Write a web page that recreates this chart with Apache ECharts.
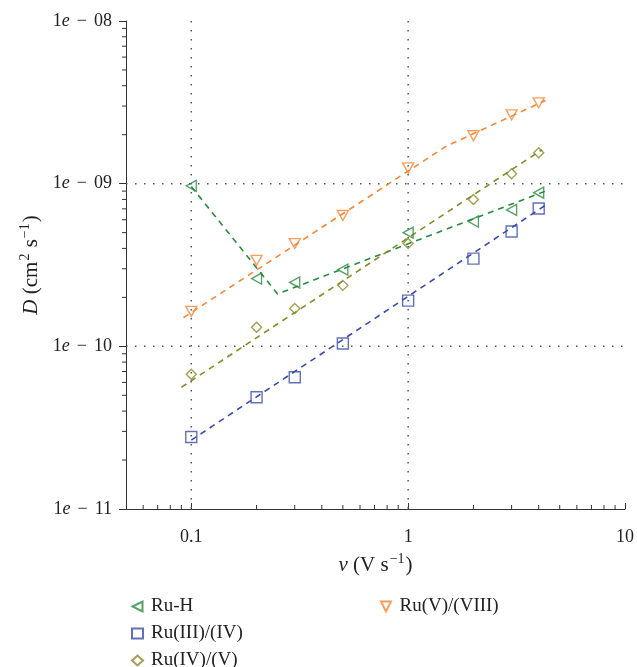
<!DOCTYPE html>
<html>
<head>
<meta charset="utf-8">
<script src="https://cdn.jsdelivr.net/npm/echarts@6/dist/echarts.min.js"></script>
<style>html,body{margin:0;padding:0;background:#fff;}#c{width:637px;height:667px;}</style>
</head>
<body>
<div id="c"></div>
<script>
// ---- data ----
var scanRates = [0.1, 0.2, 0.3, 0.5, 1, 2, 3, 4];
var ruH   = [9.7e-10, 2.61e-10, 2.47e-10, 2.96e-10, 5.0e-10, 5.85e-10, 6.9e-10, 8.8e-10];
var ru34  = [2.77e-11, 4.86e-11, 6.46e-11, 1.04e-10, 1.91e-10, 3.46e-10, 5.08e-10, 7.03e-10];
var ru45  = [6.73e-11, 1.31e-10, 1.71e-10, 2.37e-10, 4.28e-10, 7.98e-10, 1.15e-9, 1.55e-9];
var ru58  = [1.64e-10, 3.38e-10, 4.28e-10, 6.37e-10, 1.25e-9, 1.97e-9, 2.65e-9, 3.14e-9];

var fitH_x  = [0.1, 0.25, 4.3];
var fitH_y  = [9.6e-10, 2.1e-10, 9.0e-10];
var fit34_x = [0.1, 4.45];
var fit34_y = [2.65e-11, 7.6e-10];
var fit45_x = [0.09, 4.15];
var fit45_y = [5.6e-11, 1.62e-9];
var fit58_x = [0.092, 1.5, 4.3];
var fit58_y = [1.5e-10, 1.7e-9, 3.25e-9];

var xTickLabels = [0.1, 1, 10];
var yTickLabels = [1e-11, 1e-10, 1e-9, 1e-8];
var xMinorTicks = [0.06,0.07,0.08,0.09,0.2,0.3,0.4,0.5,0.6,0.7,0.8,0.9,2,3,4,5,6,7,8,9];
var yMinorTicks = [2e-11,3e-11,4e-11,5e-11,6e-11,7e-11,8e-11,9e-11,
                   2e-10,3e-10,4e-10,5e-10,6e-10,7e-10,8e-10,9e-10,
                   2e-9,3e-9,4e-9,5e-9,6e-9,7e-9,8e-9,9e-9];
var gridX = [0.1, 1];
var gridY = [1e-10, 1e-9];

// ---- styling ----
var FONT = '"Liberation Serif", "DejaVu Serif", serif';
var C_H = '#2a8a3e', C_34 = '#3a4da6', C_45 = '#8a882b', C_58 = '#f5873a';
var X_MIN = 0.05, X_MAX = 10, Y_MIN = 1e-11, Y_MAX = 1e-8;
var RICH = {
  n: { fontFamily: FONT, fontSize: 18, color: '#222', lineHeight: 22 },
  i: { fontFamily: FONT, fontStyle: 'italic', fontSize: 18, color: '#222', lineHeight: 22 },
  m: { fontFamily: FONT, fontSize: 18, color: '#222', lineHeight: 22, padding: [0, 7, 0, 7] },
  N: { fontFamily: FONT, fontSize: 21, color: '#222', lineHeight: 26 },
  I: { fontFamily: FONT, fontStyle: 'italic', fontSize: 21, color: '#222', lineHeight: 26 },
  sup: { fontFamily: FONT, fontSize: 14, color: '#222', verticalAlign: 'top', lineHeight: 14, padding: [0, 1, 0, 1] }
};

function zip(xs, ys) { return xs.map(function (x, i) { return [x, ys[i]]; }); }

function scatter(name, ys, color, symbol, size) {
  return {
    name: name, type: 'scatter', data: zip(scanRates, ys),
    symbol: symbol, symbolSize: size, z: 5,
    itemStyle: { color: 'rgba(255,255,255,0)', borderColor: color, borderWidth: 1.4 }
  };
}
function fit(xs, ys, color) {
  return {
    type: 'line', data: zip(xs, ys), symbol: 'none', z: 4, silent: true,
    lineStyle: { color: color, width: 1.6, type: [6, 5] }
  };
}

// kinds: 0 x minor tick, 1 y minor tick, 2 vertical grid line, 3 horizontal grid line
var decoData = xMinorTicks.map(function (v) { return [v, 0]; })
  .concat(yMinorTicks.map(function (v) { return [v, 1]; }))
  .concat(gridX.map(function (v) { return [v, 2]; }))
  .concat(gridY.map(function (v) { return [v, 3]; }));

var legendText = { fontFamily: FONT, fontSize: 19, color: '#222', lineHeight: 18, padding: [0, 0, 0, 3] };

var option = {
  animation: false,
  backgroundColor: '#fff',
  grid: { left: 126, right: 11, top: 21, bottom: 158 },
  xAxis: {
    type: 'log', logBase: 10, min: X_MIN, max: X_MAX,
    name: '{I|ν}{N| (V s}{sup|−1}{N|)}', nameLocation: 'middle', nameGap: 43,
    nameTextStyle: { fontFamily: FONT, fontSize: 21, color: '#222', rich: RICH },
    axisLine: { show: true, lineStyle: { color: '#333', width: 1 } },
    axisTick: { show: true, inside: true, length: 6, lineStyle: { color: '#333' } },
    axisLabel: {
      fontFamily: FONT, fontSize: 18, color: '#222', margin: 17,
      formatter: function (v) {
        for (var i = 0; i < xTickLabels.length; i++) {
          if (Math.abs(v - xTickLabels[i]) / xTickLabels[i] < 1e-6) return '{n|' + xTickLabels[i] + '}';
        }
        return '';
      },
      rich: RICH
    },
    splitLine: { show: false }
  },
  yAxis: {
    type: 'log', logBase: 10, min: Y_MIN, max: Y_MAX,
    name: '{I|D}{N| (cm}{sup|2}{N| s}{sup|−1}{N|)}', nameLocation: 'middle', nameGap: 74, nameRotate: 90,
    nameTextStyle: { fontFamily: FONT, fontSize: 21, color: '#222', rich: RICH },
    axisLine: { show: true, lineStyle: { color: '#333', width: 1 } },
    axisTick: { show: true, inside: false, length: 7, lineStyle: { color: '#333' } },
    axisLabel: {
      fontFamily: FONT, fontSize: 18, color: '#222', margin: 14,
      formatter: function (v) {
        for (var i = 0; i < yTickLabels.length; i++) {
          if (Math.abs(v - yTickLabels[i]) / yTickLabels[i] < 1e-6) {
            var e = Math.round(Math.log10(yTickLabels[i]));
            var s = String(Math.abs(e)); if (s.length < 2) s = '0' + s;
            return '{n|1}{i|e}{m|' + (e < 0 ? '\u2212' : '+') + '}{n|' + s + '}';
          }
        }
        return '';
      },
      rich: RICH
    },
    splitLine: { show: false }
  },
  legend: [
    {
      data: ['Ru-H', 'Ru(III)/(IV)', 'Ru(IV)/(V)'],
      orient: 'vertical', left: 126, top: 592, height: 110, itemWidth: 11, itemHeight: 10, itemGap: 8,
      textStyle: legendText
    },
    {
      data: ['Ru(V)/(VIII)'],
      orient: 'vertical', left: 375, top: 592, height: 110, itemWidth: 11, itemHeight: 10, itemGap: 8,
      textStyle: legendText
    }
  ],
  series: [
    {
      type: 'custom', data: decoData, clip: false, silent: true, z: 1,
      renderItem: function (params, api) {
        var v = api.value(0), kind = api.value(1), p, q;
        var tick = { stroke: '#333', lineWidth: 1 };
        var dot = { stroke: '#555', lineWidth: 1.5, lineDash: [1.5, 7.5] };
        if (kind === 0) {
          p = api.coord([v, Y_MIN]);
          return { type: 'line', shape: { x1: p[0], y1: p[1], x2: p[0], y2: p[1] - 4 }, style: tick };
        }
        if (kind === 1) {
          p = api.coord([X_MIN, v]);
          return { type: 'line', shape: { x1: p[0], y1: p[1], x2: p[0] - 4, y2: p[1] }, style: tick };
        }
        if (kind === 2) {
          p = api.coord([v, Y_MAX]); q = api.coord([v, Y_MIN]);
          return { type: 'line', shape: { x1: p[0], y1: p[1], x2: q[0], y2: q[1] }, style: dot };
        }
        p = api.coord([X_MIN, v]); q = api.coord([X_MAX, v]);
        return { type: 'line', shape: { x1: p[0], y1: p[1], x2: q[0], y2: q[1] }, style: dot };
      }
    },
    fit(fitH_x, fitH_y, C_H),
    fit(fit34_x, fit34_y, C_34),
    fit(fit45_x, fit45_y, C_45),
    fit(fit58_x, fit58_y, C_58),
    scatter('Ru-H', ruH, C_H, 'path://M0,5L10,0L10,10Z', [10, 11]),
    scatter('Ru(III)/(IV)', ru34, C_34, 'rect', 11),
    scatter('Ru(IV)/(V)', ru45, C_45, 'diamond', [10, 10]),
    scatter('Ru(V)/(VIII)', ru58, C_58, 'path://M0,0L10,0L5,10Z', [11, 10])
  ]
};

var chart = echarts.init(document.getElementById('c'), null, { renderer: 'canvas' });
chart.setOption(option);
</script>
</body>
</html>
